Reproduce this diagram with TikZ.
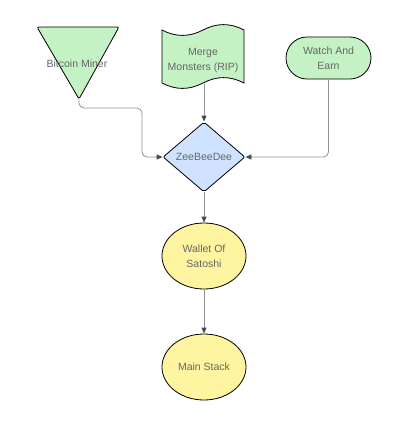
\documentclass[tikz,border=0pt]{standalone}
\usepackage{fontspec}
\setmainfont{Liberation Sans}
\usetikzlibrary{shapes.geometric,arrows.meta}
\definecolor{gfill}{HTML}{C4F2C4}
\definecolor{bfill}{HTML}{CFE2FF}
\definecolor{yfill}{HTML}{FFF4A0}
\definecolor{txt}{HTML}{666666}
\definecolor{lnc}{HTML}{929292}
\definecolor{tipc}{HTML}{454B55}
\tikzset{
  shp/.style={draw=black, line width=0.8pt},
  lbl/.style={text=txt, font=\fontsize{10.5}{15}\selectfont, align=center, inner sep=0pt},
  conn/.style={draw=lnc, line width=0.8pt, rounded corners=5pt,
    -{Triangle[length=6pt,width=5pt,color=tipc]}},
}
\begin{document}
\begin{tikzpicture}[x=1pt,y=-1pt]
\useasboundingbox (0,0) rectangle (403,429);
% Bitcoin Miner triangle
\draw[shp, fill=gfill, rounded corners=2pt] (37,27) -- (119,27) -- (79,99) -- cycle;
\coordinate (bmtip) at (79,99);
\node[lbl] (bm) at (77,64) {Bitcoin Miner};
% Merge Monsters tape
\draw[shp, fill=gfill] (162,30)
  .. controls (175.67,37.2) and (189.33,37.2) .. (203,30)
  .. controls (216.67,22.8) and (230.33,22.8) .. (244,30)
  -- (244,83)
  .. controls (230.33,75.8) and (216.67,75.8) .. (203,83)
  .. controls (189.33,90.2) and (175.67,90.2) .. (162,83) -- cycle;
\coordinate (mmbot) at (204,84);
\node[lbl] (mm) at (203,60) {Merge\\Monsters (RIP)};
% Watch And Earn
\node[shp, lbl, fill=gfill, minimum width=85pt, minimum height=42pt,
  rounded corners=21pt] (wae) at (328.5,58) {Watch And\\Earn};
% ZeeBeeDee diamond
\node[shp, lbl, fill=bfill, diamond, aspect=1.17, minimum width=82pt,
  minimum height=70pt, rounded corners=2pt] (zbd) at (204,157) {ZeeBeeDee};
% Wallet Of Satoshi
\node[shp, lbl, fill=yfill, ellipse, minimum width=84pt, minimum height=66pt]
  (wos) at (204,256) {Wallet Of\\Satoshi};
% Main Stack
\node[shp, lbl, fill=yfill, ellipse, minimum width=84pt, minimum height=66pt]
  (ms) at (204,367) {Main Stack};
% connectors
\coordinate (bend1) at (142,108);
\draw[conn] (bmtip) -- (bmtip |- bend1) -- (bend1) -- (bend1 |- zbd.west) -- (zbd.west);
\draw[conn] (mmbot) -- (zbd.north);
\draw[conn] (wae.south) -- (wae.south |- zbd.east) -- (zbd.east);
\draw[conn] (zbd.south) -- (wos.north);
\draw[conn] (wos.south) -- (ms.north);
\end{tikzpicture}
\end{document}
